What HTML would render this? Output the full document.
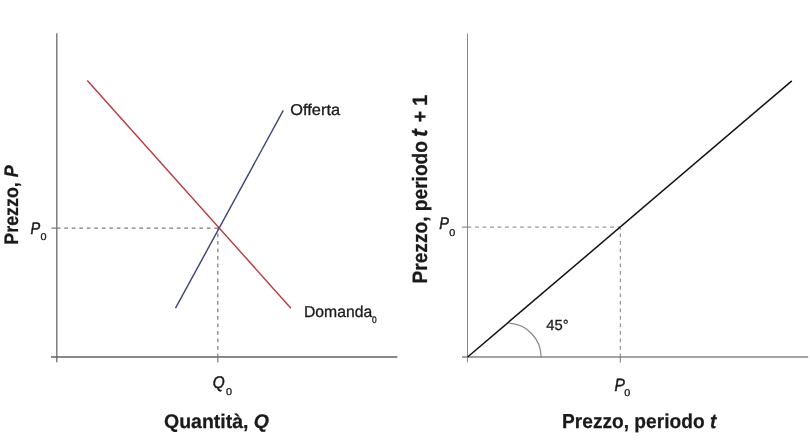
<!DOCTYPE html>
<html lang="it">
<head>
<meta charset="utf-8">
<title>Prezzo e quantità</title>
<style>
html,body{margin:0;padding:0;background:#fff;}
body{width:810px;height:440px;overflow:hidden;}
svg{display:block;}
text{font-family:"Liberation Sans",sans-serif;fill:#1a1a1a;text-rendering:geometricPrecision;}
.b,.b text{font-weight:bold;stroke:#1a1a1a;stroke-width:0.25px;}
.r text{stroke:#1a1a1a;stroke-width:0.3px;}
.r text.i{stroke-width:0.5px;}
.i{font-style:italic;}
</style>
</head>
<body>
<svg width="810" height="440" viewBox="0 0 810 440">
<rect width="810" height="440" fill="#fff"/>
<!-- left chart axes -->
<g stroke="#6a6a6a" stroke-width="1.3" fill="none">
<line x1="56.8" y1="33.3" x2="56.8" y2="362.2"/>
<line x1="51" y1="357" x2="397.3" y2="357" stroke="#606060"/>
</g>
<!-- left dashed -->
<g stroke="#7c7c7c" stroke-width="1.2" fill="none" stroke-dasharray="3.7 3.8">
<line x1="56.8" y1="228.1" x2="218" y2="228.1"/>
<line x1="217.8" y1="357.2" x2="217.8" y2="229"/>
<path d="M51.4 228.1H56.8M217.8 357V362.5" stroke-dasharray="none"/>
</g>
<line x1="87.3" y1="80.5" x2="290.9" y2="308.2" stroke="#bb383c" stroke-width="1.4"/>
<line x1="175.5" y1="308.2" x2="283.3" y2="110.4" stroke="#3a437c" stroke-width="1.4"/>
<g class="r">
<text x="290.3" y="115" font-size="15.6" textLength="49.8" lengthAdjust="spacingAndGlyphs">Offerta</text>
<text x="304" y="316.9" font-size="15.8" textLength="68.2" lengthAdjust="spacingAndGlyphs">Domanda</text>
<text transform="translate(371.9 322.6) scale(0.9 1)" font-size="9.3" class="s">0</text>
<text transform="translate(30.4 233.6) scale(0.86 1)" font-size="16.9" class="i">P</text>
<text transform="translate(40.5 239.8) scale(1.1 1)" font-size="9.9" class="s">0</text>
<text transform="translate(212.7 388.2) scale(0.91 1)" font-size="16.9" class="i">Q</text>
<text transform="translate(226 394.6) scale(1.1 1)" font-size="9.9" class="s">0</text>
</g>
<text x="164" y="427.7" font-size="19.8" class="b" textLength="105" lengthAdjust="spacingAndGlyphs">Quantità, <tspan class="i">Q</tspan></text>
<text transform="translate(18.4 244.7) rotate(-90)" font-size="19.6" class="b" textLength="79.3" lengthAdjust="spacingAndGlyphs">Prezzo, <tspan class="i">P</tspan></text>

<!-- right chart -->
<g stroke="#8c8c8c" stroke-width="1.2" fill="none">
<line x1="467.5" y1="33.6" x2="467.5" y2="362.2" stroke-width="1" stroke="#888"/>
<line x1="462" y1="357" x2="808.2" y2="357" stroke="#848484" stroke-width="1.4"/>
<path d="M509.1 323.1 A34 34 0 0 1 541.1 357" stroke-width="1.3"/>
</g>
<g stroke="#7c7c7c" stroke-width="1" fill="none" stroke-dasharray="3.7 3.8">
<line x1="467.6" y1="227.1" x2="620" y2="227.1"/>
<line x1="620.3" y1="357.2" x2="620.3" y2="228"/>
<path d="M461.8 227.1H467.6M620.3 357V362.5" stroke-dasharray="none"/>
</g>
<line x1="467.6" y1="357" x2="791.8" y2="80.9" stroke="#111" stroke-width="1.5"/>
<g class="r">
<text x="546.2" y="330.4" font-size="14.7" textLength="22.4" lengthAdjust="spacingAndGlyphs">45°</text>
<text transform="translate(439.3 229.4) scale(0.86 1)" font-size="16.9" class="i">P</text>
<text transform="translate(449.3 236) scale(1.1 1)" font-size="9.9" class="s">0</text>
<text transform="translate(614.6 390.9) scale(0.87 1)" font-size="17.9" class="i">P</text>
<text transform="translate(624.2 396.2) scale(1.1 1)" font-size="9.9" class="s">0</text>
</g>
<text x="562" y="427.7" font-size="20.2" class="b" textLength="154.3" lengthAdjust="spacingAndGlyphs">Prezzo, periodo <tspan class="i">t</tspan></text>
<g class="b" font-size="20.8">
<text transform="translate(427 283.5) rotate(-90)" textLength="142.5" lengthAdjust="spacingAndGlyphs">Prezzo, periodo</text>
<text transform="translate(427 137) rotate(-90)" class="i" font-size="23">t</text>
<text transform="translate(427 122.2) rotate(-90)" textLength="11.4" lengthAdjust="spacingAndGlyphs">+</text>
<text transform="translate(427 106) rotate(-90)" textLength="11.2" lengthAdjust="spacingAndGlyphs">1</text>
</g>
</svg>
</body>
</html>
